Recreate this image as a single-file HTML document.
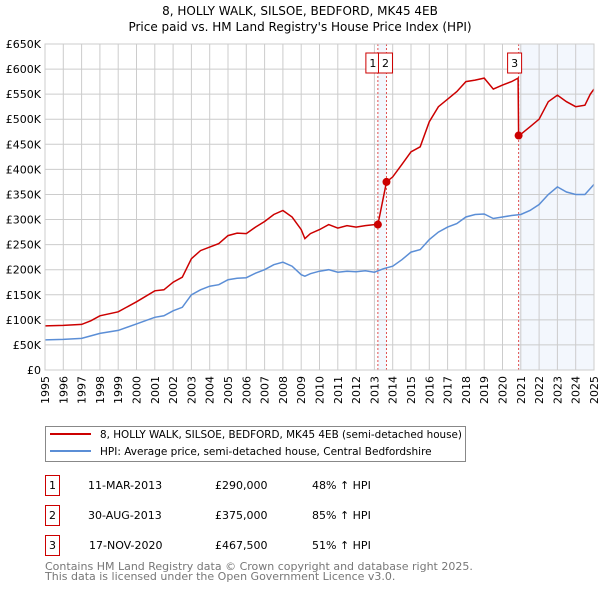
<!DOCTYPE html>
<html><head><meta charset="utf-8"><style>
body{margin:0;background:#fff;font-family:"DejaVu Sans","Liberation Sans",sans-serif;}
svg text{font-family:"DejaVu Sans","Liberation Sans",sans-serif;}
</style></head><body>
<svg id="chart" width="600" height="590" xmlns="http://www.w3.org/2000/svg">
<text x="300" y="15" font-size="12" text-anchor="middle">8, HOLLY WALK, SILSOE, BEDFORD, MK45 4EB</text>
<text x="300" y="31" font-size="12" text-anchor="middle">Price paid vs. HM Land Registry's House Price Index (HPI)</text>
<g id="plot"></g>
<g>
<rect x="45.5" y="426.5" width="420" height="35" fill="#fff" stroke="#888"/>
<line x1="50" y1="434" x2="91" y2="434" stroke="#cc0000" stroke-width="2"/>
<text x="100" y="438" font-size="10.5" textLength="362" lengthAdjust="spacingAndGlyphs">8, HOLLY WALK, SILSOE, BEDFORD, MK45 4EB (semi-detached house)</text>
<line x1="50" y1="451" x2="91" y2="451" stroke="#5b8ed6" stroke-width="2"/>
<text x="100" y="455" font-size="10.5">HPI: Average price, semi-detached house, Central Bedfordshire</text>
</g>
<g font-size="11">
<rect x="45.5" y="475.5" width="14" height="20" fill="#fff" stroke="#cc0000"/><text x="52.5" y="489" text-anchor="middle">1</text>
<text x="88" y="489">11-MAR-2013</text><text x="215" y="489">£290,000</text><text x="312" y="489">48% ↑ HPI</text>
<rect x="45.5" y="505.5" width="14" height="20" fill="#fff" stroke="#cc0000"/><text x="52.5" y="519" text-anchor="middle">2</text>
<text x="88" y="519">30-AUG-2013</text><text x="215" y="519">£375,000</text><text x="312" y="519">85% ↑ HPI</text>
<rect x="45.5" y="535.5" width="14" height="20" fill="#fff" stroke="#cc0000"/><text x="52.5" y="549" text-anchor="middle">3</text>
<text x="89" y="549">17-NOV-2020</text><text x="215" y="549">£467,500</text><text x="312" y="549">51% ↑ HPI</text>
</g>
<text x="45" y="570" font-size="11" fill="#777">Contains HM Land Registry data © Crown copyright and database right 2025.</text>
<text x="45" y="580" font-size="11" fill="#777">This data is licensed under the Open Government Licence v3.0.</text>
</svg>
<script>
const hpiYears=[1995,1996,1997,1997.5,1998,1999,2000,2001,2001.5,2002,2002.5,2003,2003.5,2004,2004.5,2005,2005.5,2006,2006.5,2007,2007.5,2008,2008.5,2009,2009.2,2009.5,2010,2010.5,2011,2011.5,2012,2012.5,2013,2013.5,2014,2014.5,2015,2015.5,2016,2016.5,2017,2017.5,2018,2018.5,2019,2019.5,2020,2020.5,2021,2021.5,2022,2022.5,2023,2023.5,2024,2024.5,2025];
const hpiValues=[60,61,63,68,73,79,92,105,108,118,125,150,160,167,170,180,183,184,193,200,210,215,207,190,187,192,197,200,195,197,196,198,195,202,207,220,235,240,260,275,285,292,305,310,311,302,305,308,310,318,330,350,365,355,350,350,370];
const redYears=[1995,1996,1997,1997.5,1998,1999,2000,2001,2001.5,2002,2002.5,2003,2003.5,2004,2004.5,2005,2005.5,2006,2006.5,2007,2007.5,2008,2008.5,2009,2009.2,2009.5,2010,2010.5,2011,2011.5,2012,2012.5,2013,2013.19,2013.66,2014,2014.5,2015,2015.5,2016,2016.5,2017,2017.5,2018,2018.5,2019,2019.5,2020,2020.5,2020.85,2020.88,2021,2021.5,2022,2022.5,2023,2023.5,2024,2024.5,2024.8,2025];
const redValues=[88,89,91,98,108,116,136,158,160,175,185,222,238,245,252,268,273,272,285,296,310,318,305,280,262,272,280,290,283,288,285,288,290,290,375,385,410,435,445,495,525,540,555,575,578,582,560,568,575,582,467.5,470,485,500,535,548,535,525,528,550,560];
const saleLabels=["1","2","3"];
const saleYears=[2013.19,2013.66,2020.88];
const saleValues=[290,375,467.5];
const yTicks=[0,50,100,150,200,250,300,350,400,450,500,550,600,650];
const yTickLabels=["£0","£50K","£100K","£150K","£200K","£250K","£300K","£350K","£400K","£450K","£500K","£550K","£600K","£650K"];
const xTicks=[1995,1996,1997,1998,1999,2000,2001,2002,2003,2004,2005,2006,2007,2008,2009,2010,2011,2012,2013,2014,2015,2016,2017,2018,2019,2020,2021,2022,2023,2024,2025];

const X0=45,X1=594,Y0=370,Y1=44;
const xs=y=>X0+(y-1995)/30*(X1-X0);
const ys=v=>Y0-v/650*(Y0-Y1);
const NS="http://www.w3.org/2000/svg";
const g=document.getElementById('plot');
function mk(t,a){const e=document.createElementNS(NS,t);for(const k in a)e.setAttribute(k,a[k]);g.appendChild(e);return e;}
let e;
e=mk('rect',{x:xs(saleYears[2]),y:Y1,width:X1-xs(saleYears[2]),height:Y0-Y1,fill:'#eef3fc',opacity:0.7});


e=mk('rect',{x:xs(saleYears[0]),y:Y1,width:xs(saleYears[1])-xs(saleYears[0]),height:Y0-Y1,fill:'#eef3fc',opacity:0.7});


yTicks.forEach((v,i)=>{
 e=mk('line',{x1:X0,x2:X1,y1:ys(v),y2:ys(v),stroke:'#ccc','stroke-width':1});
 
 
 e=mk('text',{x:X0-4,y:ys(v)+4,'font-size':11,'text-anchor':'end'});e.textContent=yTickLabels[i];
 
 
});
xTicks.forEach(y=>{
 e=mk('line',{x1:xs(y),x2:xs(y),y1:Y1,y2:Y0,stroke:'#ccc','stroke-width':1});
 
 
 e=mk('text',{x:0,y:0,'font-size':11,'text-anchor':'end',transform:`translate(${xs(y)+4},${Y0+6}) rotate(-90)`});e.textContent=y;
 
 
});
saleYears.forEach((y,i)=>{
 e=mk('line',{x1:xs(y),x2:xs(y),y1:Y1,y2:Y0,stroke:'#e05050','stroke-width':1,'stroke-dasharray':'2,2'});
 
 
});
function path(xa,va,color,name){
 const d=xa.map((y,i)=>(i?'L':'M')+xs(y).toFixed(1)+','+ys(va[i]).toFixed(1)).join('');
 e=mk('path',{d:d,fill:'none',stroke:color,'stroke-width':1.5});
 
 
}
path(hpiYears,hpiValues,'#5b8ed6','hpi-line');
path(redYears,redValues,'#cc0000','property-price-line');
saleYears.forEach((y,i)=>{
 e=mk('circle',{cx:xs(y),cy:ys(saleValues[i]),r:4,fill:'#cc0000'});
 
 
});
const lblX=[xs(saleYears[0])-5,xs(saleYears[1])-1,xs(saleYears[2])-4];
saleLabels.forEach((l,i)=>{
 e=mk('rect',{x:lblX[i]-7,y:53,width:14,height:20,fill:'#fff',stroke:'#cc0000'});
 
 
 e=mk('text',{x:lblX[i],y:67,'font-size':11,'text-anchor':'middle'});e.textContent=l;
 
 
});
e=mk('rect',{x:X0,y:Y1,width:X1-X0,height:Y0-Y1,fill:'none',stroke:'#ccc'});


</script>
</body></html>
